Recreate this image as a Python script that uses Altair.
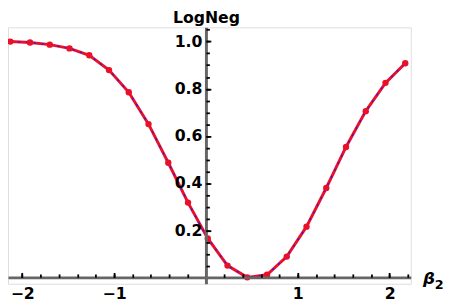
import altair as alt
import pandas as pd

# data
beta2 = [-2.13, -1.915, -1.70, -1.485, -1.27, -1.055, -0.84, -0.625, -0.41, -0.195,
         0.02, 0.235, 0.45, 0.665, 0.88, 1.095, 1.31, 1.525, 1.74, 1.955, 2.17]
logneg = [1.0, 0.996, 0.987, 0.971, 0.942, 0.879, 0.785, 0.65, 0.486, 0.317,
          0.165, 0.05, 0.0, 0.011, 0.088, 0.215, 0.379, 0.553, 0.705, 0.825, 0.908]

x_label_values = [-2, -1, 1, 2]
y_label_values = [0.2, 0.4, 0.6, 0.8, 1.0]
x_minor_ticks = [-2.0, -1.8, -1.6, -1.4, -1.2, -1.0, -0.8, -0.6, -0.4, -0.2,
                 0.2, 0.4, 0.6, 0.8, 1.0, 1.2, 1.4, 1.6, 1.8, 2.0, 2.2]
y_minor_ticks = [0.05, 0.1, 0.15, 0.2, 0.25, 0.3, 0.35, 0.4, 0.45, 0.5, 0.55,
                 0.6, 0.65, 0.7, 0.75, 0.8, 0.85, 0.9, 0.95, 1.0, 1.05]

df = pd.DataFrame({"beta": beta2, "logneg": logneg})

W, H = 410, 261
x_dom = [-2.155, 2.23]
y_dom = [-0.027, 1.0604]
xs = alt.Scale(domain=x_dom, nice=False, zero=False)
ys = alt.Scale(domain=y_dom, nice=False, zero=False)

AX_GRAY = "#666666"
RED = "#e8102a"
BLUE = "#1a1aff"
FONT = "DejaVu Sans"

# pixel position of zero inside plot
X0 = W * (0 - x_dom[0]) / (x_dom[1] - x_dom[0])
Y0 = H * (y_dom[1] - 0) / (y_dom[1] - y_dom[0])

x_label_axis = alt.Axis(orient="bottom", offset=-(H - Y0), values=x_label_values, format="d",
                        ticks=False, tickSize=0, domain=True, domainColor=AX_GRAY, domainWidth=3,
                        labelFont=FONT, labelFontWeight="bold", labelFontSize=16, labelColor="black",
                        labelPadding=9, labelFlush=False, labelOverlap=False, grid=False, zindex=1,
                        title="β", titleX=W + 12, titleY=6, titleAlign="left",
                        titleBaseline="alphabetic", titleFont=FONT, titleFontStyle="italic",
                        titleFontWeight="bold", titleFontSize=17, titleColor="black")
y_label_axis = alt.Axis(orient="left", offset=-X0, values=y_label_values, format=".1f",
                        ticks=False, tickSize=0, domain=True, domainColor=AX_GRAY, domainWidth=3,
                        labelFont=FONT, labelFontWeight="bold", labelFontSize=16, labelColor="black",
                        labelPadding=4, labelFlush=False, labelOverlap=False, grid=False, zindex=1,
                        title="LogNeg", titleAngle=0, titleX=0, titleY=-5, titleAlign="center",
                        titleBaseline="alphabetic", titleFont=FONT, titleFontWeight="bold",
                        titleFontSize=16, titleColor="black")

def tick_axis_x(vals, size, **kw):
    return alt.Axis(orient="top", offset=-Y0, values=vals, labels=False, domain=False,
                    ticks=True, tickSize=size, tickColor="black", tickWidth=1.8,
                    grid=False, zindex=2, **kw)

def tick_axis_y(vals, size):
    return alt.Axis(orient="right", offset=-(W - X0), values=vals, labels=False, domain=False,
                    ticks=True, tickSize=size, tickColor="black", tickWidth=1.8,
                    grid=False, title=None, zindex=2)

base = alt.Chart(df)

red_line = base.mark_line(color=RED, strokeWidth=3).encode(
    x=alt.X("beta:Q", scale=xs, axis=x_label_axis),
    y=alt.Y("logneg:Q", scale=ys, axis=y_label_axis),
)
blue_line = base.mark_line(color=BLUE, strokeWidth=1.3, strokeDash=[2, 6]).encode(
    x=alt.X("beta:Q", scale=xs, axis=tick_axis_x(x_minor_ticks, 3.5, title=None)),
    y=alt.Y("logneg:Q", scale=ys, axis=tick_axis_y(y_minor_ticks, 3.5)),
)
points = base.mark_circle(color=RED, size=42, opacity=1).encode(
    x=alt.X("beta:Q", scale=xs, axis=tick_axis_x(
        x_label_values, 5, title="2", titleX=W + 24, titleY=11, titleAlign="left",
        titleBaseline="alphabetic", titleFont=FONT, titleFontWeight="bold",
        titleFontSize=13, titleColor="black")),
    y=alt.Y("logneg:Q", scale=ys, axis=tick_axis_y(y_label_values, 5)),
)

chart = alt.layer(red_line, blue_line, points).resolve_axis(
    x="independent", y="independent"
).properties(
    width=W, height=H,
    autosize=alt.AutoSizeParams(type="none"),
    padding={"left": 0, "top": 17, "right": 43, "bottom": 21},
).configure_view(stroke=None).configure(background="white")

chart.save("out.html", embed_options={"renderer": "svg", "actions": False})
